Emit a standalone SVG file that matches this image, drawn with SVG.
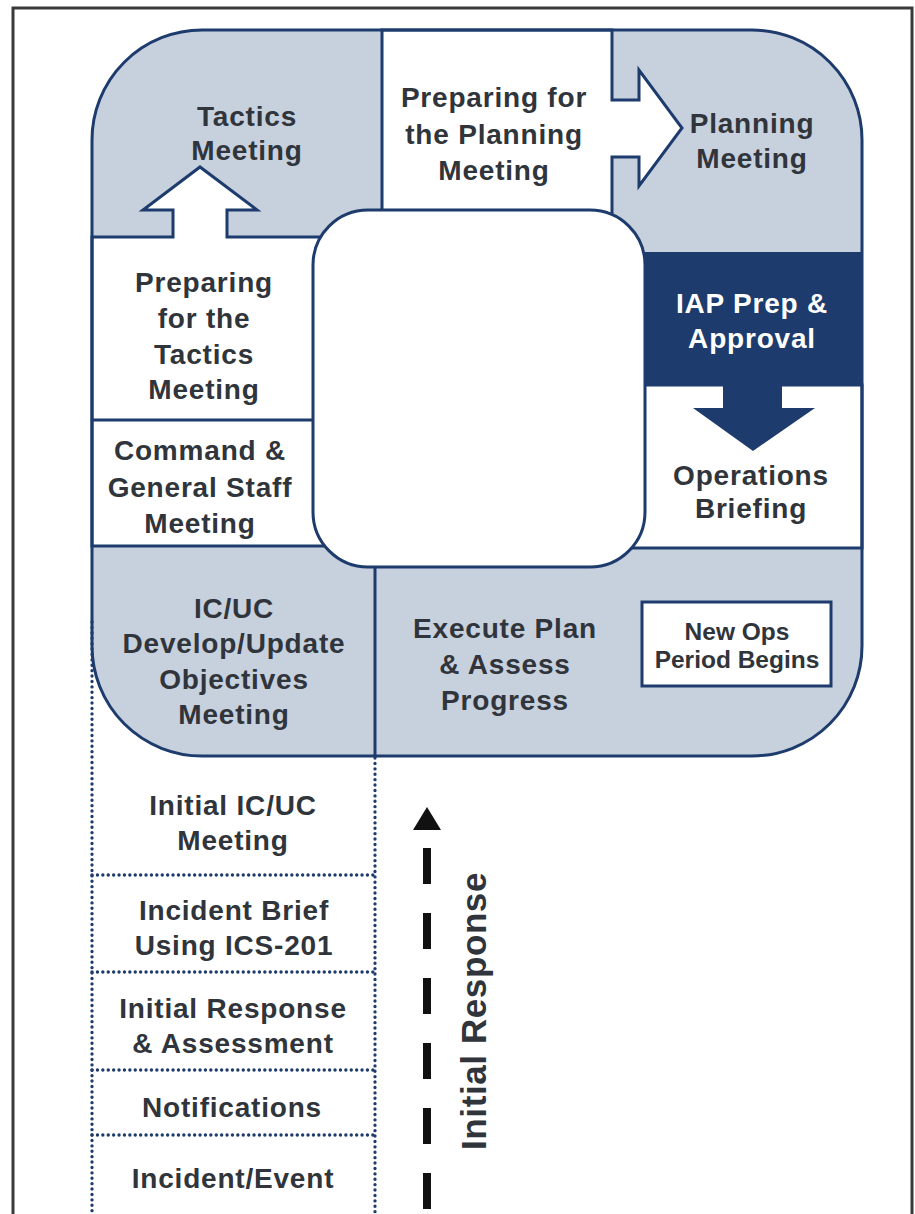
<svg xmlns="http://www.w3.org/2000/svg" width="915" height="1214" viewBox="0 0 915 1214">
  <defs>
    <style>
      .lbl { font-family: "Liberation Sans", Arial, sans-serif; font-weight: bold; font-size: 28px; letter-spacing: 0.8px; fill: #30343b; text-anchor: middle; }
      .lbl-w { fill: #ffffff; }
      .small { font-size: 24.5px; letter-spacing: 0; }
      .big { font-size: 35px; letter-spacing: 0.6px; }
      .region { stroke: #1d3b6c; stroke-width: 3; stroke-linejoin: miter; }
      .line { stroke: #1d3b6c; stroke-width: 3; fill: none; }
      .dots { stroke: #1d3b6c; stroke-width: 3.3; stroke-linecap: round; stroke-dasharray: 0.1 5.3; fill: none; }
    </style>
  </defs>

  <rect width="915" height="1214" fill="#ffffff"/>

  <!-- page frame -->
  <path d="M13,1214 V8 H912 V1214" fill="none" stroke="#3a3a3a" stroke-width="3"/>

  <!-- planning cycle base -->
  <g id="cycle-base">
    <rect x="92" y="30" width="770" height="726" rx="110" ry="110" fill="#c7d0dd"/>
  </g>

  <g id="tactics-meeting">
    <text class="lbl" x="247" y="126">Tactics</text>
    <text class="lbl" x="247" y="160">Meeting</text>
  </g>

  <g id="prep-tactics">
    <path class="region" fill="#ffffff" d="M92,237 H173 V210 H143 L200,167 L257,210 H227 V237 H345 V546 H92 Z"/>
    <text class="lbl" x="204" y="292">Preparing</text>
    <text class="lbl" x="204" y="328">for the</text>
    <text class="lbl" x="204" y="364">Tactics</text>
    <text class="lbl" x="204" y="399">Meeting</text>
  </g>

  <g id="cgs-meeting">
    <path class="line" d="M92,420 H320"/>
    <text class="lbl" x="200" y="460">Command &amp;</text>
    <text class="lbl" x="200" y="497">General Staff</text>
    <text class="lbl" x="200" y="533">Meeting</text>
  </g>

  <g id="prep-planning">
    <path class="region" fill="#ffffff" d="M382,30 H612 V100 H639 V70 L682,128 L639,186 V157 H612 V245 H382 Z"/>
    <text class="lbl" x="494" y="107">Preparing for</text>
    <text class="lbl" x="494" y="144">the Planning</text>
    <text class="lbl" x="494" y="180">Meeting</text>
  </g>

  <g id="planning-meeting">
    <text class="lbl" x="752" y="133">Planning</text>
    <text class="lbl" x="752" y="168">Meeting</text>
  </g>

  <g id="iap-prep">
    <rect x="600" y="252" width="262" height="133" fill="#1d3b6c"/>
    <text class="lbl lbl-w" x="752" y="313">IAP Prep &amp;</text>
    <text class="lbl lbl-w" x="752" y="348">Approval</text>
  </g>

  <g id="ops-briefing">
    <rect class="region" x="600" y="385" width="262" height="163" fill="#ffffff"/>
    <path d="M723,383 H782 V408 H815 L753,451 L693,408 H723 Z" fill="#1d3b6c"/>
    <text class="lbl" x="751" y="485">Operations</text>
    <text class="lbl" x="751" y="518">Briefing</text>
  </g>

  <!-- centre of the cycle -->
  <g id="cycle-centre">
    <rect x="313" y="210" width="332" height="357" rx="55" ry="55" fill="#ffffff" stroke="#1d3b6c" stroke-width="3"/>
  </g>

  <g id="objectives-meeting">
    <text class="lbl" x="234" y="618">IC/UC</text>
    <text class="lbl" x="234" y="653">Develop/Update</text>
    <text class="lbl" x="234" y="689">Objectives</text>
    <text class="lbl" x="234" y="724">Meeting</text>
  </g>

  <g id="execute-plan">
    <path class="line" d="M375,567 V756"/>
    <text class="lbl" x="505" y="638">Execute Plan</text>
    <text class="lbl" x="505" y="674">&amp; Assess</text>
    <text class="lbl" x="505" y="710">Progress</text>
  </g>

  <!-- outline of the cycle -->
  <rect x="92" y="30" width="770" height="726" rx="110" ry="110" fill="none" stroke="#1d3b6c" stroke-width="3"/>

  <g id="new-ops-period">
    <rect x="642" y="602" width="189" height="84" fill="#ffffff" stroke="#1d3b6c" stroke-width="3"/>
    <text class="lbl small" x="737" y="640">New Ops</text>
    <text class="lbl small" x="737" y="668">Period Begins</text>
  </g>

  <!-- initial response steps -->
  <g id="initial-steps-frame">
    <path class="dots" d="M92,622 V1214"/>
    <path class="dots" d="M375,758 V1214"/>
    <path class="dots" d="M92,875 H375"/>
    <path class="dots" d="M92,972 H375"/>
    <path class="dots" d="M92,1070 H375"/>
    <path class="dots" d="M92,1135 H375"/>
  </g>

  <g id="initial-icuc">
    <text class="lbl" x="233" y="815">Initial IC/UC</text>
    <text class="lbl" x="233" y="850">Meeting</text>
  </g>
  <g id="incident-brief">
    <text class="lbl" x="234" y="920">Incident Brief</text>
    <text class="lbl" x="234" y="955">Using ICS-201</text>
  </g>
  <g id="initial-response-assessment">
    <text class="lbl" x="233" y="1018">Initial Response</text>
    <text class="lbl" x="233" y="1053">&amp; Assessment</text>
  </g>
  <g id="notifications">
    <text class="lbl" x="232" y="1117">Notifications</text>
  </g>
  <g id="incident-event">
    <text class="lbl" x="233" y="1188">Incident/Event</text>
  </g>

  <!-- initial response progression -->
  <g id="connectors">
    <path d="M427,848 V1214" stroke="#111111" stroke-width="8" stroke-dasharray="36 29" fill="none"/>
    <path d="M413,830 H441 L427,807 Z" fill="#111111"/>
  </g>
  <g id="initial-response-label">
    <text class="lbl big" transform="translate(486,1011) rotate(-90)" x="0" y="0">Initial Response</text>
  </g>
</svg>
